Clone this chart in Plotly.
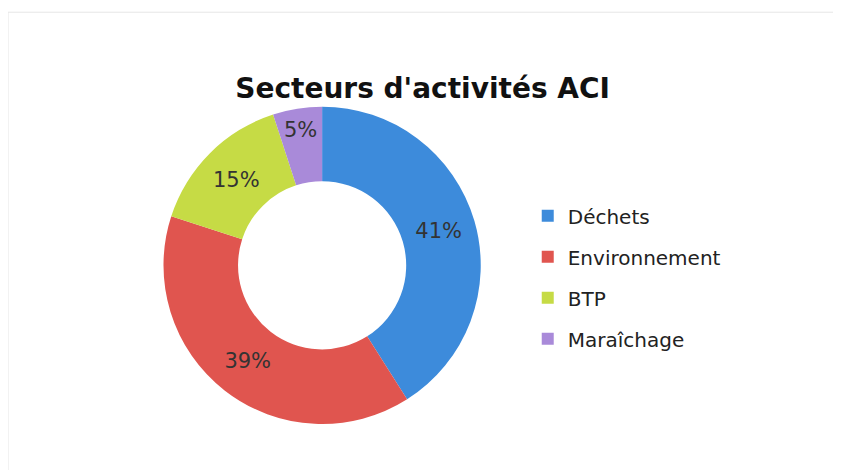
import plotly.graph_objects as go

# data
sectors = ['Déchets', 'Environnement', 'BTP', 'Maraîchage']
shares = [41, 39, 15, 5]
colors = ['#3d8bdb', '#e0554f', '#c6db45', '#a98ad9']

fig = go.Figure()

fig.add_trace(go.Pie(
    labels=sectors,
    values=shares,
    hole=0.53,
    sort=False,
    direction='clockwise',
    rotation=0,
    marker=dict(colors=colors, line=dict(width=0)),
    textinfo='percent',
    texttemplate='%{percent:.0%}',
    textposition='inside',
    insidetextorientation='horizontal',
    textfont=dict(family='DejaVu Sans', size=21, color='#333333'),
    domain=dict(x=[0.182, 0.565], y=[0.115, 0.790]),
    showlegend=False,
))

# legend entries, one group per sector so the gap between rows can be set
for name, c in zip(sectors, colors):
    fig.add_trace(go.Scatter(
        x=[None], y=[None], mode='markers', name=name, legendgroup=name,
        marker=dict(symbol='square', size=8, color=c),
    ))

fig.update_layout(
    width=841, height=470,
    margin=dict(l=0, r=0, t=0, b=0),
    paper_bgcolor='white', plot_bgcolor='white',
    title=dict(text="<b>Secteurs d'activités ACI</b>", x=0.493, xanchor='center',
               y=0.83, yanchor='middle',
               font=dict(family='DejaVu Sans', size=28, color='#111111')),
    xaxis=dict(visible=False), yaxis=dict(visible=False),
    legend=dict(x=0.618, y=0.427, yanchor='middle', xanchor='left',
                traceorder='grouped', tracegroupgap=12, itemsizing='constant',
                font=dict(family='DejaVu Sans', size=20, color='#222222')),
    uniformtext=dict(minsize=21, mode='show'),
    shapes=[dict(type='rect', xref='paper', yref='paper', x0=0.0, x1=0.985,
                 y0=0.005, y1=0.991, line=dict(color='#e6e6e6', width=1))],
)

fig.write_html("out.html")
